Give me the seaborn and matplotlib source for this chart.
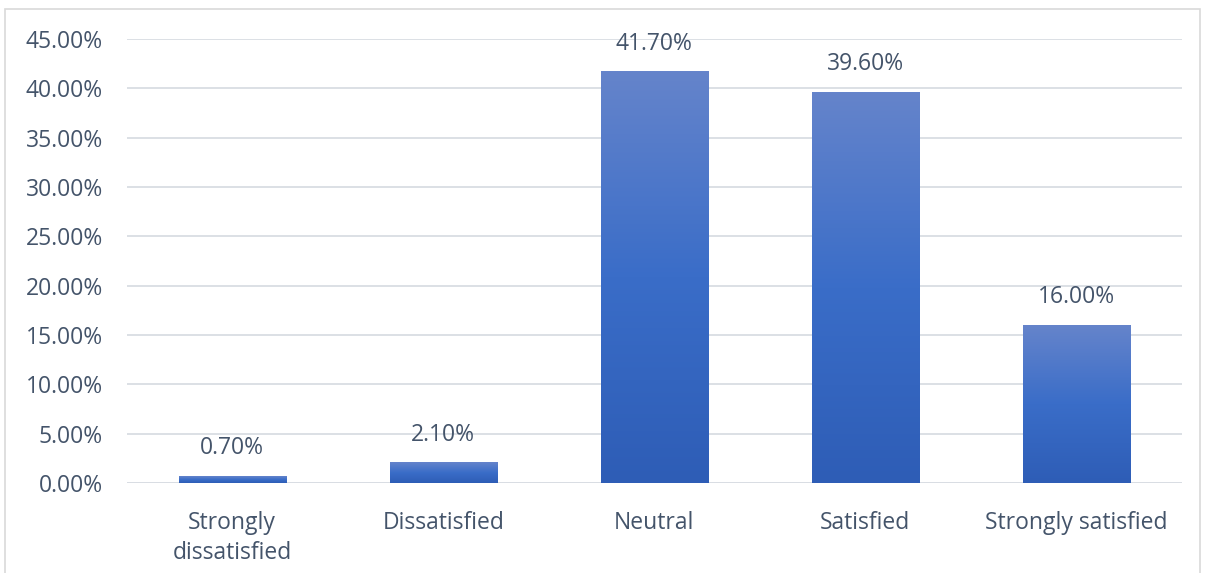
import numpy as np
import pandas as pd
import matplotlib; matplotlib.use("Agg")
import matplotlib.pyplot as plt
from matplotlib.colors import LinearSegmentedColormap
from matplotlib.patches import Rectangle
import seaborn as sns

categories = ["Strongly\ndissatisfied", "Dissatisfied", "Neutral", "Satisfied", "Strongly satisfied"]
values = [0.70, 2.10, 41.70, 39.60, 16.00]
y_ticks = [0, 5, 10, 15, 20, 25, 30, 35, 40, 45]

TEXT = "#44546A"
GRID = "#D9DDE3"
FS = 16.5

sns.set_theme(style="white")
plt.rcParams["font.family"] = ["Open Sans", "DejaVu Sans"]

df = pd.DataFrame({"cat": categories, "val": values})
fig = plt.figure(figsize=(12.05, 5.73), dpi=100)
ax = fig.add_axes([0.105, 0.157, 0.876, 0.775])

sns.barplot(data=df, x="cat", y="val", color="#4472C4", width=0.507,
            ax=ax, zorder=2, saturation=1)

# gradient fill per bar (lighter at top, darker at bottom)
cmap = LinearSegmentedColormap.from_list("grad", ["#2E5DB6", "#3A6DC8", "#6584CB"])
grad = np.linspace(0, 1, 256).reshape(-1, 1)
for p in ax.patches:
    x0, w, h = p.get_x(), p.get_width(), p.get_height()
    p.set_facecolor("none"); p.set_edgecolor("none")
    ax.imshow(grad, cmap=cmap, origin="lower", aspect="auto",
              extent=(x0, x0 + w, 0, h), zorder=3)

for i, v in enumerate(values):
    ax.text(i, v + 1.6, f"{v:.2f}%", ha="center", va="bottom", fontsize=FS, color=TEXT)

ax.set_xlim(-0.5, len(categories) - 0.5)
ax.set_ylim(0, 45)
ax.set_yticks(y_ticks)
ax.set_yticklabels([f"{t:.2f}%" for t in y_ticks])
ax.yaxis.grid(True, color=GRID, linewidth=1.3, zorder=0)
ax.set_axisbelow(True)
for s in ax.spines.values():
    s.set_visible(False)
ax.axhline(0, color=GRID, linewidth=1.3, zorder=1)
ax.tick_params(axis="both", labelsize=FS, colors=TEXT, length=0)
ax.tick_params(axis="y", pad=17)
ax.tick_params(axis="x", pad=20)
for lbl in ax.get_xticklabels():
    lbl.set_linespacing(1.35)
ax.set_xlabel(""); ax.set_ylabel("")

# light chart border
fig.patches.append(Rectangle((0.004, -0.01), 0.992, 0.994, transform=fig.transFigure,
                             fill=False, edgecolor="#D9D9D9", linewidth=1.2))

fig.savefig("out.png", dpi=100)
